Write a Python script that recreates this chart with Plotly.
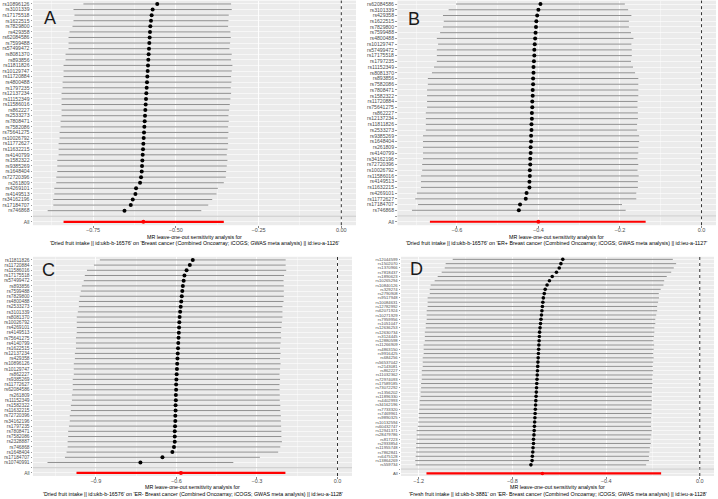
import plotly.graph_objects as go

W, H = 718, 499

# ---------------- Panel A ----------------
A_snp = ["rs10896126", "rs3101339", "rs17175518", "rs1622515", "rs7829800", "rs429358", "rs62084586",
         "rs7599488", "rs57499472", "rs8081370", "rs893856", "rs11811826", "rs10129747", "rs11720884",
         "rs4800488", "rs1797235", "rs12137234", "rs11152349", "rs11586016", "rs862227", "rs2533273",
         "rs7808471", "rs7582086", "rs75641275", "rs10026792", "rs11772627", "rs11632215", "rs4140799",
         "rs1582322", "rs9385269", "rs1648404", "rs72720396", "rs261809", "rs4269101", "rs4149513",
         "rs34162196", "rs17184707", "rs746868"]
A_b = [-0.556, -0.570, -0.573, -0.575, -0.577, -0.578, -0.579, -0.580, -0.581, -0.582, -0.583, -0.584,
       -0.585, -0.586, -0.587, -0.588, -0.589, -0.590, -0.591, -0.592, -0.593, -0.594, -0.595, -0.596,
       -0.597, -0.598, -0.599, -0.600, -0.601, -0.602, -0.603, -0.605, -0.608, -0.620, -0.622, -0.630,
       -0.636, -0.655]
A_lo = [-0.779, -0.809, -0.806, -0.809, -0.812, -0.821, -0.824, -0.824, -0.824, -0.833, -0.833, -0.839,
        -0.839, -0.839, -0.842, -0.842, -0.845, -0.845, -0.845, -0.845, -0.845, -0.848, -0.848, -0.851,
        -0.851, -0.854, -0.854, -0.854, -0.858, -0.858, -0.858, -0.861, -0.861, -0.867, -0.867, -0.870,
        -0.870, -0.887]
A_hi = [-0.333, -0.331, -0.340, -0.341, -0.342, -0.335, -0.334, -0.336, -0.338, -0.331, -0.333, -0.329,
        -0.331, -0.333, -0.332, -0.334, -0.333, -0.335, -0.337, -0.339, -0.341, -0.340, -0.342, -0.341,
        -0.343, -0.342, -0.344, -0.346, -0.344, -0.346, -0.348, -0.349, -0.355, -0.373, -0.377, -0.390,
        -0.402, -0.423]
A_all = [-0.598, -0.839, -0.355]
A_ticks = [-0.75, -0.50, -0.25, 0.00]
A_ticktext = ["\u22120.75", "\u22120.50", "\u22120.25", "0.00"]
A_caption = ["MR leave-one-out sensitivity analysis for",
             "'Dried fruit intake || id:ukb-b-16576' on "
             "'Breast cancer (Combined Oncoarray; iCOGS; GWAS meta analysis) || id:ieu-a-1126'"]

# ---------------- Panel B ----------------
B_snp = ["rs62084586", "rs3101339", "rs429358", "rs1622515", "rs7829800", "rs7599488", "rs4800488",
         "rs10129747", "rs57499472", "rs17175518", "rs1797235", "rs11152349", "rs8081370", "rs893856",
         "rs7582086", "rs7808471", "rs1582322", "rs11720884", "rs75641275", "rs862227", "rs12137234",
         "rs11811826", "rs2533273", "rs9385269", "rs1648404", "rs261809", "rs4140799", "rs34162196",
         "rs72720396", "rs10026792", "rs11586016", "rs4149513", "rs11632215", "rs4269101", "rs11772627",
         "rs17184707", "rs746868"]
B_b = [-0.395, -0.400, -0.403, -0.405, -0.406, -0.407, -0.408, -0.409, -0.410, -0.410, -0.411, -0.412,
       -0.412, -0.413, -0.413, -0.414, -0.414, -0.415, -0.415, -0.416, -0.416, -0.417, -0.417, -0.418,
       -0.418, -0.419, -0.419, -0.420, -0.420, -0.421, -0.421, -0.422, -0.422, -0.429, -0.431, -0.445,
       -0.448]
B_lo = [-0.602, -0.620, -0.634, -0.632, -0.634, -0.641, -0.649, -0.646, -0.649, -0.649, -0.649, -0.656,
        -0.661, -0.671, -0.671, -0.673, -0.673, -0.673, -0.673, -0.676, -0.676, -0.676, -0.676, -0.683,
        -0.683, -0.683, -0.683, -0.683, -0.685, -0.685, -0.688, -0.688, -0.688, -0.698, -0.702, -0.695,
        -0.710]
B_hi = [-0.188, -0.180, -0.172, -0.178, -0.178, -0.173, -0.167, -0.172, -0.171, -0.171, -0.173, -0.168,
        -0.163, -0.155, -0.155, -0.155, -0.155, -0.157, -0.157, -0.156, -0.156, -0.158, -0.158, -0.153,
        -0.153, -0.155, -0.155, -0.157, -0.155, -0.157, -0.154, -0.156, -0.156, -0.160, -0.160, -0.195,
        -0.186]
B_all = [-0.400, -0.666, -0.137]
B_ticks = [-0.6, -0.4, -0.2, 0.0]
B_ticktext = ["\u22120.6", "\u22120.4", "\u22120.2", "0.0"]
B_caption = ["MR leave-one-out sensitivity analysis for",
             "'Dried fruit intake || id:ukb-b-16576' on "
             "'ER+ Breast cancer (Combined Oncoarray; iCOGS; GWAS meta analysis) || id:ieu-a-1127'"]

# ---------------- Panel C ----------------
C_snp = ["rs11811826", "rs11720884", "rs11586016", "rs17175518", "rs57499472", "rs893856", "rs7599488",
         "rs7829800", "rs4800488", "rs2533273", "rs3101339", "rs8081370", "rs10026792", "rs4269101",
         "rs4149513", "rs75641275", "rs4140799", "rs1622515", "rs12137234", "rs429358", "rs10896126",
         "rs10129747", "rs862227", "rs9385269", "rs11772627", "rs62084586", "rs261809", "rs11152349",
         "rs1582322", "rs11632215", "rs72720396", "rs34162196", "rs1797235", "rs7808471", "rs7582086",
         "rs2328887", "rs746868", "rs1648404", "rs17184707", "rs10740991"]
C_b = [-0.539, -0.550, -0.562, -0.570, -0.573, -0.576, -0.578, -0.580, -0.582, -0.584, -0.586, -0.588,
       -0.589, -0.590, -0.591, -0.592, -0.593, -0.594, -0.595, -0.596, -0.597, -0.598, -0.599, -0.600,
       -0.601, -0.601, -0.602, -0.602, -0.603, -0.603, -0.604, -0.604, -0.605, -0.606, -0.606, -0.606,
       -0.609, -0.615, -0.652, -0.734]
C_lo = [-0.885, -0.907, -0.933, -0.941, -0.945, -0.952, -0.956, -0.960, -0.963, -0.963, -0.967, -0.971,
        -0.971, -0.971, -0.971, -0.974, -0.974, -0.974, -0.978, -0.978, -0.982, -0.982, -0.982, -0.986,
        -0.986, -0.986, -0.989, -0.989, -0.993, -0.993, -0.997, -0.997, -1.000, -1.003, -1.003, -1.005,
        -1.005, -1.009, -1.015, -1.080]
C_hi = [-0.193, -0.193, -0.191, -0.199, -0.201, -0.200, -0.200, -0.200, -0.201, -0.205, -0.205, -0.205,
        -0.207, -0.209, -0.211, -0.210, -0.212, -0.214, -0.212, -0.214, -0.212, -0.214, -0.216, -0.214,
        -0.216, -0.216, -0.215, -0.215, -0.213, -0.213, -0.211, -0.211, -0.210, -0.209, -0.209, -0.207,
        -0.213, -0.221, -0.289, -0.388]
C_all = [-0.583, -0.972, -0.194]
C_ticks = [-0.9, -0.6, -0.3, 0.0]
C_ticktext = ["\u22120.9", "\u22120.6", "\u22120.3", "0.0"]
C_caption = ["MR leave-one-out sensitivity analysis for",
             "'Dried fruit intake || id:ukb-b-16576' on "
             "'ER- Breast cancer (Combined Oncoarray; iCOGS; GWAS meta analysis) || id:ieu-a-1128'"]

# ---------------- Panel D ----------------
D_snp = ["rs12044599", "rs1502070", "rs1370966", "rs7818437", "rs1890623", "rs10265294", "rs10840126",
         "rs329274", "rs2790908", "rs9517948", "rs10084631", "rs12782992", "rs62071924", "rs10271929",
         "rs7959956", "rs1051047", "rs12636253", "rs12630734", "rs3124445", "rs12880598", "rs11266909",
         "rs4863150", "rs9916425", "rs684256", "rs56537042", "rs2143081", "rs862227", "rs11032362",
         "rs72974093", "rs17589185", "rs73072292", "rs1356202", "rs11896330", "rs4402993", "rs34162196",
         "rs7733320", "rs7469961", "rs9890325", "rs10132594", "rs60432747", "rs12941371", "rs28479786",
         "rs817223", "rs2933854", "rs11955748", "rs7862841", "rs6475128", "rs13864269", "rs559734"]
D_b = [-0.585, -0.593, -0.600, -0.612, -0.630, -0.642, -0.652, -0.660, -0.664, -0.668, -0.670, -0.672,
       -0.674, -0.676, -0.678, -0.680, -0.682, -0.684, -0.685, -0.686, -0.687, -0.688, -0.689, -0.690,
       -0.691, -0.692, -0.693, -0.694, -0.695, -0.696, -0.697, -0.698, -0.699, -0.700, -0.701, -0.702,
       -0.703, -0.704, -0.705, -0.706, -0.707, -0.708, -0.710, -0.710, -0.712, -0.713, -0.715, -0.716,
       -0.721]
D_lo = [-1.055, -1.085, -1.089, -1.102, -1.119, -1.132, -1.149, -1.153, -1.153, -1.162, -1.162, -1.162,
        -1.166, -1.166, -1.166, -1.170, -1.170, -1.174, -1.174, -1.174, -1.179, -1.179, -1.179, -1.183,
        -1.183, -1.183, -1.187, -1.187, -1.187, -1.190, -1.190, -1.192, -1.192, -1.196, -1.196, -1.198,
        -1.200, -1.200, -1.202, -1.204, -1.209, -1.209, -1.209, -1.211, -1.211, -1.211, -1.213, -1.215,
        -1.213]
D_hi = [-0.115, -0.101, -0.111, -0.122, -0.141, -0.152, -0.155, -0.167, -0.175, -0.174, -0.178, -0.182,
        -0.182, -0.186, -0.190, -0.190, -0.194, -0.194, -0.196, -0.198, -0.195, -0.197, -0.199, -0.197,
        -0.199, -0.201, -0.199, -0.201, -0.203, -0.202, -0.204, -0.204, -0.206, -0.204, -0.206, -0.206,
        -0.206, -0.208, -0.208, -0.208, -0.205, -0.207, -0.211, -0.209, -0.213, -0.215, -0.217, -0.217,
        -0.229]
D_all = [-0.672, -1.167, -0.165]
D_ticks = [-1.2, -0.8, -0.4, 0.0]
D_ticktext = ["\u22121.2", "\u22120.8", "\u22120.4", "0.0"]
D_caption = ["MR leave-one-out sensitivity analysis for",
             "'Fresh fruit intake || id:ukb-b-3881' on "
             "'ER- Breast cancer (Combined Oncoarray; iCOGS; GWAS meta analysis) || id:ieu-a-1128'"]

# ---------------- layout (pixel geometry) ----------------
panels = [
    dict(letter="A", snp=A_snp, b=A_b, lo=A_lo, hi=A_hi, allv=A_all, ticks=A_ticks, tt=A_ticktext,
         minor=0.125, xpx=(33, 356), ypx=(0.6, 225.2), cap_y=(236.5, 243.3), let=(50, 18.5), yfont=5.1, ms=4),
    dict(letter="B", snp=B_snp, b=B_b, lo=B_lo, hi=B_hi, allv=B_all, ticks=B_ticks, tt=B_ticktext,
         minor=0.1, xpx=(397.5, 716), ypx=(0.6, 225.2), cap_y=(236.5, 243.3), let=(414, 19.5), yfont=5.1, ms=4),
    dict(letter="C", snp=C_snp, b=C_b, lo=C_lo, hi=C_hi, allv=C_all, ticks=C_ticks, tt=C_ticktext,
         minor=0.15, xpx=(33, 352), ypx=(256.8, 476), cap_y=(487.3, 494.2), let=(48, 270), yfont=4.8, ms=4),
    dict(letter="D", snp=D_snp, b=D_b, lo=D_lo, hi=D_hi, allv=D_all, ticks=D_ticks, tt=D_ticktext,
         minor=0.2, xpx=(401, 714), ypx=(256.8, 476), cap_y=(487.3, 494.2), let=(416, 269), yfont=4.2, ms=3.6),
]
caps = [A_caption, B_caption, C_caption, D_caption]

FONT = "Liberation Sans, Arial, sans-serif"
fig = go.Figure()
layout = dict(width=W, height=H, margin=dict(l=0, r=0, t=0, b=0), paper_bgcolor="white",
              plot_bgcolor="#EBEBEB", showlegend=False, shapes=[], annotations=[])

for i, p in enumerate(panels):
    k = "" if i == 0 else str(i + 1)
    xa, ya = "x" + k, "y" + k
    n = len(p["snp"])
    rows = list(range(1, n + 1))
    blank_row = n + 1
    all_row = n + 2
    lo_min = min(p["lo"] + [p["allv"][1]])
    hi_max = max(p["hi"] + [p["allv"][2], 0.0])
    R = hi_max - lo_min
    xr = [lo_min - 0.05 * R, hi_max + 0.05 * R]

    cx, cy = [], []
    for r, l, h in zip(rows, p["lo"], p["hi"]):
        cx += [l, h, None]
        cy += [r, r, None]
    fig.add_trace(go.Scatter(x=cx, y=cy, xaxis=xa, yaxis=ya, mode="lines",
                             line=dict(color="#858585", width=0.9), hoverinfo="skip"))
    fig.add_trace(go.Scatter(x=p["b"], y=rows, xaxis=xa, yaxis=ya, mode="markers",
                             marker=dict(color="black", size=p["ms"], line=dict(width=0))))
    fig.add_trace(go.Scatter(x=[p["allv"][1], p["allv"][2]], y=[all_row, all_row], xaxis=xa, yaxis=ya,
                             mode="lines", line=dict(color="#FF0000", width=2.2)))
    fig.add_trace(go.Scatter(x=[p["allv"][0]], y=[all_row], xaxis=xa, yaxis=ya, mode="markers",
                             marker=dict(color="#FF0000", size=p["ms"], line=dict(width=0))))

    layout["xaxis" + k] = dict(
        domain=[p["xpx"][0] / W, p["xpx"][1] / W], range=xr, anchor=ya,
        tickvals=p["ticks"], ticktext=p["tt"], tickfont=dict(size=5.5, color="#4D4D4D", family=FONT),
        ticks="outside", ticklen=1.5, tickwidth=0.6, tickcolor="#333333", ticklabelstandoff=-2,
        showgrid=True, gridcolor="white", gridwidth=0.8, zeroline=False, showline=False,
        minor=dict(dtick=p["minor"], tick0=0, showgrid=True, gridcolor="white", gridwidth=0.4),
        fixedrange=True,
    )
    layout["yaxis" + k] = dict(
        domain=[1 - p["ypx"][1] / H, 1 - p["ypx"][0] / H], range=[all_row + 0.6, 0.4], anchor=xa,
        tickvals=rows + [blank_row, all_row], ticktext=p["snp"] + ["", "All"],
        tickfont=dict(size=p["yfont"], color="#4D4D4D", family=FONT),
        ticks="outside", ticklen=1.5, tickwidth=0.5, tickcolor="#333333",
        showgrid=True, gridcolor="white", gridwidth=0.6, zeroline=False, showline=False,
        fixedrange=True,
    )
    layout["shapes"].append(dict(type="line", xref=xa, yref=ya + " domain", x0=0, x1=0, y0=0, y1=1,
                                 line=dict(color="black", width=0.8, dash="dot")))
    layout["shapes"].append(dict(type="line", xref=xa + " domain", yref=ya, x0=0, x1=1,
                                 y0=blank_row, y1=blank_row, line=dict(color="#BEBEBE", width=0.8)))
    for line_text, cy_px in zip(caps[i], p["cap_y"]):
        layout["annotations"].append(dict(
            text=line_text, xref="paper", yref="paper", x=(p["xpx"][0] + p["xpx"][1]) / 2 / W,
            y=1 - cy_px / H, xanchor="center", yanchor="middle", showarrow=False,
            font=dict(size=5.3, color="black", family=FONT)))
    layout["annotations"].append(dict(
        text=p["letter"], xref="paper", yref="paper", x=p["let"][0] / W, y=1 - p["let"][1] / H,
        xanchor="center", yanchor="middle", showarrow=False,
        font=dict(size=18, color="#1a1a1a", family=FONT)))

fig.update_layout(**layout)
fig.write_html("out.html", config={"displayModeBar": False, "staticPlot": True},
               post_script="document.body.style.margin='0px';document.body.style.padding='0px';")
